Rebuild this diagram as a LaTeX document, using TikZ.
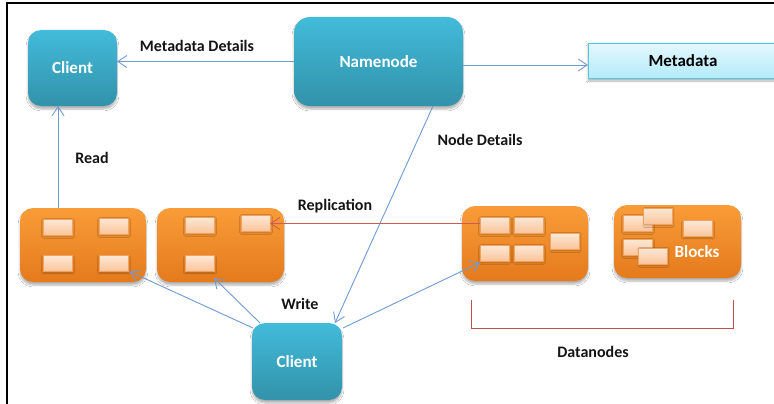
\documentclass[tikz,border=0pt]{standalone}
\usepackage{fontspec}
\setmainfont{Carlito}
\usetikzlibrary{arrows.meta,shadows.blur,calc}
\definecolor{tealtop}{HTML}{42BBDA}
\definecolor{tealbot}{HTML}{3292AA}
\definecolor{orgtop}{HTML}{F99C38}
\definecolor{orgbot}{HTML}{E47A1C}
\definecolor{pchtop}{HTML}{FEE8D6}
\definecolor{pchbot}{HTML}{FAC49A}
\definecolor{pchedge}{HTML}{F0A260}
\definecolor{mdtop}{HTML}{E4F8FE}
\definecolor{mdbot}{HTML}{B3EBFA}
\definecolor{mdedge}{HTML}{5CC3DE}
\definecolor{linkblue}{HTML}{6F9BD4}
\definecolor{linkred}{HTML}{D25A55}
\definecolor{bracketred}{HTML}{C0504D}
\definecolor{labeltext}{HTML}{151515}
\begin{document}
\begin{tikzpicture}[x=1pt,y=-1pt,
  softshadow/.style={blur shadow={shadow xshift=0pt,shadow yshift=-3pt,shadow blur steps=6,shadow opacity=30}},
  tealbox/.style={rectangle,rounded corners=13pt,top color=tealtop,bottom color=tealbot,draw=none,
    text=white,font=\fontsize{17}{20}\selectfont\bfseries,inner sep=0pt,outer sep=0pt,softshadow},
  orgbox/.style={rectangle,rounded corners=13pt,top color=orgtop,bottom color=orgbot,draw=none,
    inner sep=0pt,outer sep=0pt,softshadow,minimum width=126pt,minimum height=74pt},
  blk/.style={rectangle,top color=pchtop,bottom color=pchbot,draw=pchedge,line width=0.6pt,
    inner sep=0pt,outer sep=0pt,minimum width=29pt,minimum height=16pt,
    blur shadow={shadow xshift=0.5pt,shadow yshift=-1.5pt,shadow blur steps=3,shadow opacity=25}},
  mdbox/.style={rectangle,top color=mdtop,bottom color=mdbot,draw=mdedge,line width=0.8pt,
    inner sep=0pt,outer sep=0pt,font=\fontsize{17}{20}\selectfont\bfseries,text=black,softshadow},
  lbl/.style={font=\fontsize{16}{19}\selectfont\bfseries,text=labeltext,inner sep=0pt},
  bluearrow/.style={draw=linkblue,line width=0.9pt,-{Straight Barb[length=9pt,width=12pt]}},
  redarrow/.style={draw=linkred,line width=0.9pt,-{Straight Barb[length=9pt,width=12pt]}},
  bracketline/.style={draw=bracketred,line width=0.9pt}
]
\useasboundingbox (0,0) rectangle (774,404);
\fill[white] (0,0) rectangle (774,404);
\draw[line width=1.3pt,black] (7,404) -- (7,3) -- (774,3);

% main nodes
\node[tealbox,minimum width=89pt,minimum height=76pt] (cl1) at (72.5,68) {Client};
\node[tealbox,minimum width=169pt,minimum height=89pt,rounded corners=16pt] (nn) at (378.5,61.5) {Namenode};
\node[mdbox,minimum width=190pt,minimum height=35pt] (md) at (683,60.5) {Metadata};
\node[tealbox,minimum width=90pt,minimum height=77pt] (cl2) at (297,361.5) {Client};

% datanodes
\node[orgbox] (ob1) at (83,245) {};
\node[orgbox,minimum width=127pt] (ob2) at (220.5,245) {};
\node[orgbox,minimum height=75pt] (ob3) at (525,243.5) {};
\node[orgbox,minimum width=127pt,minimum height=73pt] (ob4) at (677.5,241.5) {};

\node[blk] (r11) at (57.5,227) {};
\node[blk] (r12) at (113.5,226) {};
\node[blk] (r13) at (57.5,263.5) {};
\node[blk] (r14) at (113.5,263.5) {};

\node[blk] (r21) at (199.5,225) {};
\node[blk] (r22) at (255.5,223) {};
\node[blk] (r23) at (199.5,263.5) {};

\node[blk] (r31) at (494.5,225) {};
\node[blk] (r32) at (528.5,225) {};
\node[blk] (r33) at (565,241) {};
\node[blk] (r34) at (494.5,253) {};
\node[blk] (r35) at (528.5,253) {};

\node[blk] (r41) at (637.5,223) {};
\node[blk] (r42) at (658,216) {};
\node[blk] (r43) at (697.5,228.5) {};
\node[blk] (r44) at (637.5,247) {};
\node[blk] (r45) at (653,256) {};
\node[font=\fontsize{17}{20}\selectfont\bfseries,text=white,inner sep=0pt] (blocks) at (697,252) {Blocks};

% labels
\node[lbl] (lmd) at (197,46) {Metadata Details};
\node[lbl] (lread) at (92,158) {Read};
\node[lbl] (lnd) at (480,140) {Node Details};
\node[lbl] (lrep) at (335,206) {Replication};
\node[lbl] (lwr) at (300,304) {Write};
\node[lbl] (ldn) at (593,352) {Datanodes};

% connectors
\draw[bluearrow] (nn.west) -- (nn.west -| cl1.east);
\draw[bluearrow] ([yshift=-3.5pt]nn.east) -- ([yshift=-3.5pt]nn.east -| md.west);
\draw[bluearrow] ([xshift=-25pt]ob1.north) -- ([xshift=-25pt]ob1.north |- cl1.south);
\draw[bluearrow] ([xshift=54.5pt]nn.south) -- ([xshift=38pt]cl2.north);
\draw[bluearrow] ([shift={(1pt,-5pt)}]cl2.north west) -- ([xshift=1.5pt]r14.south east);
\draw[bluearrow] ([xshift=8pt]cl2.north west) -- ([yshift=-6.5pt]r23.south east);
\draw[bluearrow] ([shift={(1pt,-5pt)}]cl2.north east) -- ([yshift=-1.5pt]r34.south west);
\draw[redarrow] ([yshift=1.5pt]r31.west) -- ([yshift=1.5pt]r31.west -| r22.east);

% bracket
\draw[bracketline] (471,300) -- (471,328.5) -- (733,328.5) -- (733,300);
\end{tikzpicture}
\end{document}
